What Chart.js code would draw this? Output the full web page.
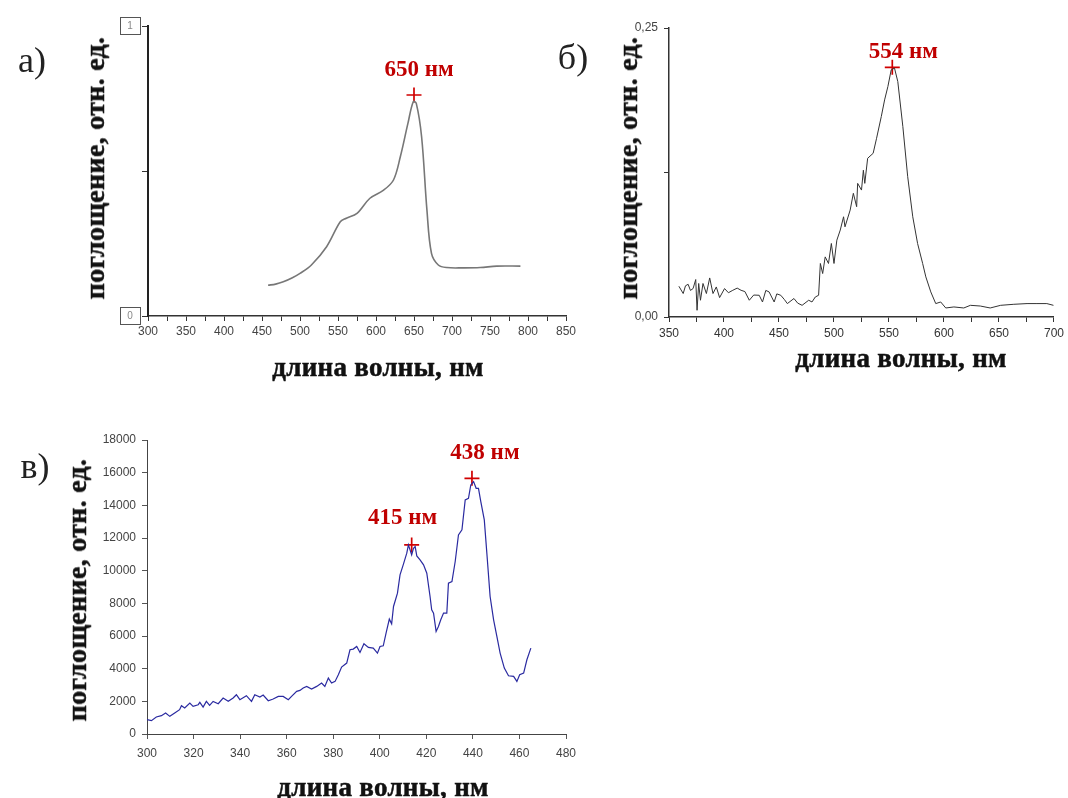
<!DOCTYPE html>
<html lang="ru">
<head>
<meta charset="UTF-8">
<title>Спектры поглощения</title>
<script src="https://cdn.jsdelivr.net/npm/chart.js"></script>
<style>
  body { margin: 0; background: #fff; }
  #page { position: relative; width: 1068px; height: 798px; overflow: hidden; }
  canvas { position: absolute; }
  .txt { position: absolute; white-space: nowrap; font-family: "Liberation Serif", "Times New Roman", serif; color: #111; transform: translate(-50%, -50%); }
  .title { font-weight: bold; font-size: 27px; -webkit-text-stroke: 0.5px #111; letter-spacing: 0.3px; }
  .ytitle { font-size: 28px; transform: translate(-50%, -50%) rotate(-90deg); }
  .panel { font-size: 36px; color: #222; }
</style>
</head>
<body>
<div id="page">
  <canvas id="chartA" width="600" height="400" style="left:0;top:0"></canvas>
  <canvas id="chartB" width="468" height="400" style="left:600px;top:0"></canvas>
  <canvas id="chartC" width="600" height="398" style="left:0;top:400px"></canvas>

  <div class="txt panel" style="left:32px;top:60px">а)</div>
  <div class="txt panel" style="left:573px;top:57px">б)</div>
  <div class="txt panel" style="left:35px;top:466px">в)</div>

  <div class="txt title" style="left:378px;top:367px">длина волны, нм</div>
  <div class="txt title ytitle" style="left:95px;top:168px">поглощение, отн. ед.</div>

  <div class="txt title" style="left:901px;top:358px">длина волны, нм</div>
  <div class="txt title ytitle" style="left:628px;top:168px">поглощение, отн. ед.</div>

  <div class="txt title" style="left:383px;top:787px">длина волны, нм</div>
  <div class="txt title ytitle" style="left:77px;top:590px">поглощение, отн. ед.</div>
</div>

<script>
// а) spectrum
const aWave = [458, 468, 478, 490, 500, 515, 535, 553, 561, 575, 592, 610, 623, 632, 642, 649, 653, 660, 667, 673, 682, 693, 715, 737, 759, 790];
const aAbs = [0.106, 0.110, 0.118, 0.132, 0.147, 0.176, 0.239, 0.325, 0.337, 0.354, 0.406, 0.434, 0.469, 0.549, 0.664, 0.739, 0.733, 0.618, 0.366, 0.216, 0.176, 0.167, 0.166, 0.167, 0.172, 0.172];
const aPeakX = [650];
const aPeakY = [0.762];
const aPeakText = ['650 нм'];

// б) spectrum
const bWave = [359, 362.9, 365, 367.4, 369.5, 371.9, 374.3, 375.5, 377, 378.6, 380.9, 384, 387, 390, 393, 396, 400.5, 404, 408, 412, 415.5, 419, 423, 427, 432, 435, 438, 441, 445.6, 448, 451.6, 455, 457.6, 463.6, 467, 471, 477, 480, 483, 486, 487.6, 489.7, 492, 495, 497.6, 500, 502.6, 505.7, 508.7, 510, 514.7, 517.6, 520.6, 521.5, 525, 526.7, 528, 530.6, 535.6, 538.7, 543, 546, 549, 552, 555, 558, 562.6, 567, 571.6, 576, 580.6, 583.5, 588, 592.5, 597, 601.6, 609, 618, 624, 633, 642, 651.5, 663.5, 675.5, 684.5, 693.5, 699.5];
const bAbs = [0.0266, 0.0203, 0.0270, 0.0283, 0.0230, 0.0246, 0.0324, 0.0058, 0.0290, 0.0145, 0.0290, 0.0203, 0.0338, 0.0203, 0.0260, 0.0168, 0.0246, 0.0210, 0.0231, 0.0250, 0.0231, 0.0220, 0.0145, 0.0190, 0.0188, 0.0130, 0.0230, 0.0217, 0.0130, 0.0200, 0.0188, 0.0150, 0.0116, 0.0160, 0.0120, 0.0101, 0.0145, 0.0130, 0.0173, 0.0188, 0.0463, 0.0376, 0.0520, 0.0463, 0.0636, 0.0463, 0.0665, 0.0752, 0.0867, 0.0780, 0.0925, 0.1070, 0.0954, 0.1156, 0.1098, 0.1270, 0.1156, 0.1373, 0.1416, 0.1546, 0.1734, 0.1878, 0.1994, 0.2138, 0.2153, 0.2037, 0.1647, 0.1214, 0.0867, 0.0636, 0.0463, 0.0347, 0.0217, 0.0116, 0.0130, 0.0078, 0.0087, 0.0078, 0.0101, 0.0095, 0.0078, 0.0101, 0.0110, 0.0116, 0.0116, 0.0116, 0.0101];
const bPeakX = [553];
const bPeakY = [0.216];
const bPeakText = ['554 нм'];

// в) spectrum
const cWave = [300, 301.9, 304, 306.2, 308, 309.8, 311.9, 314, 314.8, 316.2, 318.4, 319.8, 322, 322.7, 324.1, 325.5, 326.9, 328.4, 330.6, 332.7, 334.9, 337, 338.4, 339.9, 342.7, 344.9, 346.3, 348.5, 349.9, 352.1, 354.2, 356.4, 358.5, 360.7, 362.1, 364.3, 365.7, 367.1, 368.6, 370.7, 372.9, 375, 376.4, 377.9, 379.3, 380.8, 382.2, 383.6, 385.8, 387.2, 388.6, 390.1, 391.5, 393.2, 395.1, 397.2, 399, 400.1, 401.5, 402.7, 404.1, 405.1, 405.9, 407.6, 408.7, 410.2, 411.6, 412.3, 413, 413.7, 414.5, 415.2, 415.9, 417.3, 418.8, 420.2, 421.6, 422.3, 423.1, 424.2, 425.2, 426.2, 427.4, 428.8, 429.5, 431, 432.4, 433.8, 435.3, 436.7, 438.1, 439.1, 440.3, 441.4, 442.4, 443.4, 444.9, 446, 447.4, 448.9, 450.3, 451.7, 453.5, 455.3, 457.5, 458.9, 460.1, 461.8, 463.2, 464.9];
const cAbs = [877, 815, 1040, 1121, 1284, 1080, 1284, 1488, 1733, 1590, 1896, 1692, 1794, 1937, 1651, 1998, 1753, 1998, 1855, 2202, 1998, 2202, 2405, 2100, 2344, 1998, 2405, 2263, 2385, 2038, 2140, 2303, 2303, 2100, 2303, 2609, 2670, 2813, 2915, 2752, 2915, 3119, 2915, 3425, 3119, 3221, 3628, 4097, 4342, 5157, 5198, 5361, 4994, 5524, 5300, 5259, 4953, 5361, 5402, 6177, 7033, 6747, 7807, 8623, 9744, 10417, 11069, 11579, 11273, 10967, 11375, 11477, 10906, 10661, 10356, 9846, 8419, 7604, 7400, 6279, 6584, 6992, 7400, 7400, 9234, 9336, 10559, 12190, 12496, 14331, 14433, 15248, 15452, 15044, 15044, 14229, 13108, 11069, 8419, 6992, 5973, 4953, 4036, 3567, 3527, 3221, 3628, 3730, 4546, 5259];
const cPeakX = [413.7, 439.6];
const cPeakY = [11579, 15656];
const cPeakText = ['415 нм', '438 нм'];

const zip = (xs, ys) => xs.map((x, i) => ({x: x, y: ys[i]}));
const sans = '"Liberation Sans", Arial, sans-serif';

// red labels drawn next to the peak crosses (dataset 1)
const peakLabels = {
    id: 'peakLabels',
    afterDatasetsDraw(chart, args, opts) {
        if (!opts.labels) return;
        const meta = chart.getDatasetMeta(1);
        const ctx = chart.ctx;
        ctx.save();
        ctx.font = 'bold 23px "Liberation Serif", serif';
        ctx.fillStyle = '#c00000';
        ctx.textAlign = 'center';
        ctx.textBaseline = 'middle';
        opts.labels.forEach((t, i) => {
            const p = meta.data[i];
            const off = opts.offsets[i];
            ctx.fillText(t, p.x + off[0], p.y + off[1]);
        });
        ctx.restore();
    }
};

// the little framed "1" / "0" labels of panel а)
const boxedTicks = {
    id: 'boxedTicks',
    afterDraw(chart, args, opts) {
        if (!opts.values) return;
        const ctx = chart.ctx;
        const y = chart.scales.y;
        ctx.save();
        ctx.font = '10px ' + sans;
        ctx.textAlign = 'center';
        ctx.textBaseline = 'middle';
        opts.values.forEach(v => {
            const py = Math.round(y.getPixelForValue(v));
            const cx = Math.round(y.right - 18);
            ctx.strokeStyle = '#555';
            ctx.lineWidth = 1;
            ctx.strokeRect(cx - 10 + 0.5, py - 9 + 0.5, 20, 17);
            ctx.fillStyle = '#888';
            ctx.fillText(String(v), cx, py);
        });
        ctx.restore();
    }
};

function baseOptions(pad) {
    return {
        responsive: false,
        animation: false,
        events: [],
        layout: { padding: pad },
        plugins: { legend: { display: false }, tooltip: { enabled: false } }
    };
}

function peakSet(xs, ys) {
    return {
        data: zip(xs, ys),
        showLine: false,
        pointStyle: 'cross',
        pointRadius: 7.5,
        borderColor: '#d00000',
        borderWidth: 1.7
    };
}

// а)
const optA = baseOptions({ top: 26, right: 34, left: 0, bottom: 0 });
optA.plugins.peakLabels = { labels: aPeakText, offsets: [[5, -25]] };
optA.plugins.boxedTicks = { values: [1, 0] };
optA.scales = {
    x: {
        type: 'linear', min: 300, max: 850,
        afterFit: s => { s.height = 84; },
        ticks: { stepSize: 25, autoSkip: false, maxRotation: 0, padding: 3, color: '#444', font: { size: 12, family: sans },
                 callback: v => (v % 50 === 0 ? String(v) : '') },
        grid: { drawOnChartArea: false, tickLength: 5, color: '#333' },
        border: { color: '#333', width: 1.5 }
    },
    y: {
        min: 0, max: 1,
        afterFit: s => { s.width = 148; },
        ticks: { stepSize: 0.5, display: false },
        grid: { drawOnChartArea: false, tickLength: 6, color: '#333' },
        border: { color: '#222', width: 2 }
    }
};
new Chart(document.getElementById('chartA'), {
    type: 'line',
    data: { datasets: [
        { data: zip(aWave, aAbs), borderColor: '#777', borderWidth: 1.6, pointRadius: 0, tension: 0.35 },
        peakSet(aPeakX, aPeakY)
    ] },
    options: optA,
    plugins: [peakLabels, boxedTicks]
});

// б)
const optB = baseOptions({ top: 28, right: 11, left: 0, bottom: 0 });
optB.plugins.peakLabels = { labels: bPeakText, offsets: [[11, -15]] };
optB.scales = {
    x: {
        type: 'linear', min: 350, max: 700,
        afterFit: s => { s.height = 83; },
        ticks: { stepSize: 25, autoSkip: false, maxRotation: 0, padding: 4, color: '#333', font: { size: 12, family: sans },
                 callback: v => (v % 50 === 0 ? String(v) : '') },
        grid: { drawOnChartArea: false, tickLength: 5, color: '#333' },
        border: { color: '#333', width: 1.5 }
    },
    y: {
        min: 0, max: 0.25,
        afterFit: s => { s.width = 69; },
        ticks: { stepSize: 0.125, padding: 6, color: '#444', font: { size: 12, family: sans },
                 callback: v => (v === 0.125 ? '' : v.toFixed(2).replace('.', ',')) },
        grid: { drawOnChartArea: false, tickLength: 5, color: '#333' },
        border: { color: '#333', width: 1.5 }
    }
};
new Chart(document.getElementById('chartB'), {
    type: 'line',
    data: { datasets: [
        { data: zip(bWave, bAbs), borderColor: '#333', borderWidth: 1, pointRadius: 0, tension: 0 },
        peakSet(bPeakX, bPeakY)
    ] },
    options: optB,
    plugins: [peakLabels]
});

// в)
const optC = baseOptions({ top: 40, right: 34, left: 0, bottom: 0 });
optC.plugins.peakLabels = { labels: cPeakText, offsets: [[-9, -27], [13, -25]] };
optC.scales = {
    x: {
        type: 'linear', min: 300, max: 480,
        afterFit: s => { s.height = 64; },
        ticks: { stepSize: 20, autoSkip: false, maxRotation: 0, padding: 7, color: '#444', font: { size: 12, family: sans },
                 callback: v => String(v) },
        grid: { drawOnChartArea: false, tickLength: 5, color: '#555' },
        border: { color: '#444', width: 1 }
    },
    y: {
        min: 0, max: 18000,
        afterFit: s => { s.width = 147; },
        ticks: { stepSize: 2000, padding: 6, color: '#444', font: { size: 12, family: sans },
                 callback: v => String(v) },
        grid: { drawOnChartArea: false, tickLength: 5, color: '#555' },
        border: { color: '#444', width: 1 }
    }
};
new Chart(document.getElementById('chartC'), {
    type: 'line',
    data: { datasets: [
        { data: zip(cWave, cAbs), borderColor: '#2a2aa0', borderWidth: 1.2, pointRadius: 0, tension: 0 },
        peakSet(cPeakX, cPeakY)
    ] },
    options: optC,
    plugins: [peakLabels]
});
</script>
</body>
</html>
